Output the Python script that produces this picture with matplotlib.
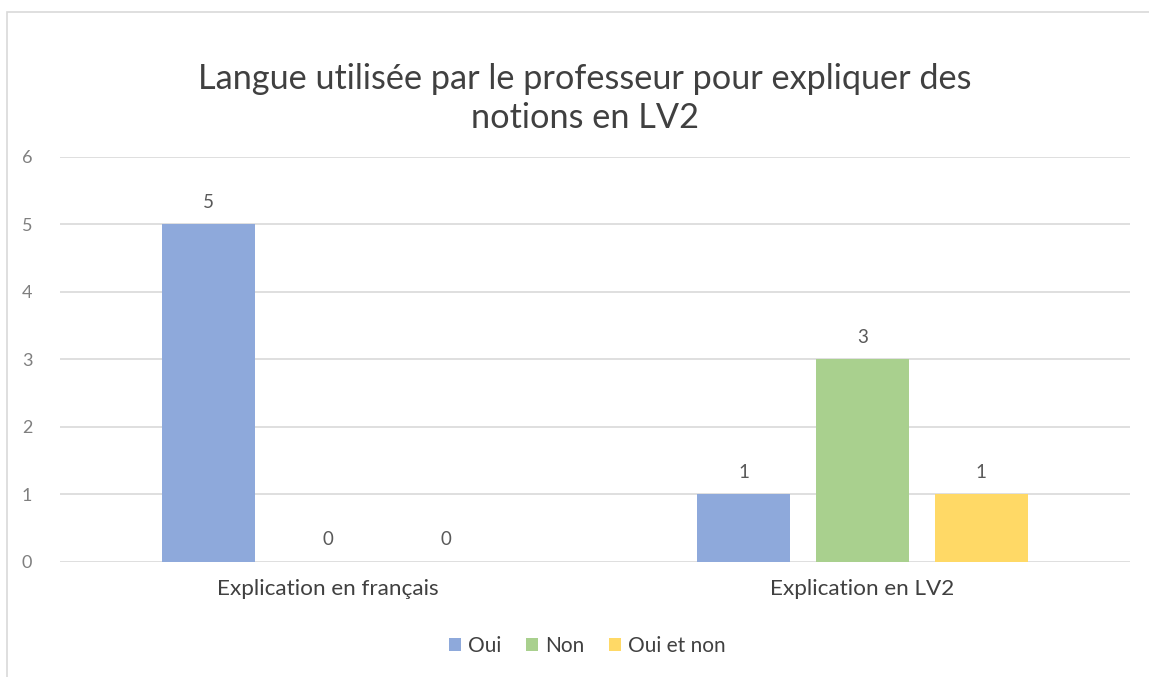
import matplotlib.pyplot as plt
from matplotlib.patches import Rectangle
import numpy as np

plt.rcParams['font.family'] = ['Lato', 'DejaVu Sans']

# Data
categories = ['Explication en français', 'Explication en LV2']
series = ['Oui', 'Non', 'Oui et non']
oui = [5, 1]
non = [0, 3]
oui_et_non = [0, 1]
colors = ['#8EA9DB', '#A9D08E', '#FFD966']

fig = plt.figure(figsize=(11.49, 6.77), dpi=100)
ax = fig.add_axes([0.0522, 0.1699, 0.9313, 0.5982])

# Outer chart border
fig.patches.append(Rectangle((7 / 1149, -0.1), 1.2, 1 - 12 / 677 + 0.1,
                             transform=fig.transFigure, fill=False,
                             edgecolor='#d9d9d9', linewidth=1.2))

x = np.arange(len(categories))
width = 0.174
step = 0.222
for i, (name, vals) in enumerate(zip(series, [oui, non, oui_et_non])):
    pos = x + (i - 1) * step
    bars = ax.bar(pos, vals, width, color=colors[i], label=name, zorder=3)
    for b, v in zip(bars, vals):
        ax.text(b.get_x() + b.get_width() / 2, v + 0.2, str(v),
                ha='center', va='bottom', fontsize=13.5, color='#595959')

ax.set_xlim(-0.5, 1.5)
ax.set_ylim(0, 6)
ax.set_yticks(range(0, 7))
ax.yaxis.grid(True, color='#d9d9d9', linewidth=1.2, zorder=0)
ax.set_axisbelow(True)
for s in ax.spines.values():
    s.set_visible(False)
ax.tick_params(axis='y', length=0, pad=20, labelsize=13, labelcolor='#7f7f7f')
ax.set_xticks(x)
ax.set_xticklabels(categories)
ax.tick_params(axis='x', length=0, pad=12, labelsize=16.2, labelcolor='#404040')

fig.text(0.509, 0.8545, 'Langue utilisée par le professeur pour expliquer des\nnotions en LV2',
         ha='center', va='center', fontsize=24.7, color='#404040', linespacing=1.25)

fig.legend(loc='center', bbox_to_anchor=(0.511, 0.046), ncol=3, frameon=False,
           fontsize=15, handlelength=0.6, handleheight=0.6, handletextpad=0.3,
           columnspacing=1.2, labelcolor='#404040')

plt.savefig('out.png', dpi=100)
